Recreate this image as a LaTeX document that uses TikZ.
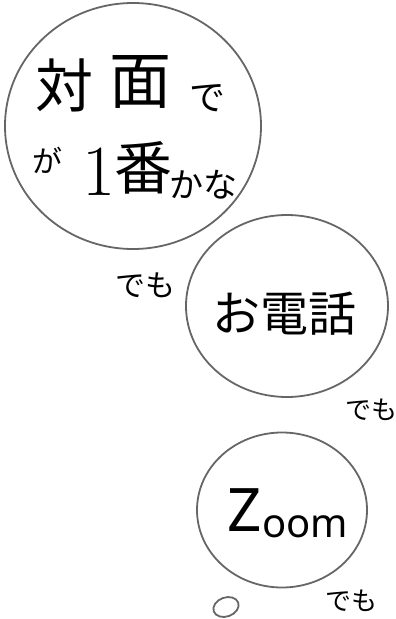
\documentclass[tikz,border=0pt]{standalone}
\usepackage{fontspec}
\newfontfamily\jp{Noto Sans CJK JP}
\newfontfamily\lat{Noto Sans}
\newcommand\fsz[1]{\fontsize{#1}{#1}\selectfont}
\usetikzlibrary{shapes.geometric}

\begin{document}
\begin{tikzpicture}[x = 1pt, y = -1pt, bubble/.style = {ellipse, draw = black!60, line width = 1.8pt, inner sep = 0}, word/.style = {inner sep = 0}]

	\useasboundingbox (0, 0) rectangle (396, 619);

	\node [bubble, minimum width = 256pt, minimum height = 246pt] (face) at (133, 126) {};
	\node [bubble, minimum width = 202pt, minimum height = 182pt] (phone) at (287, 306) {};
	\node [bubble, minimum width = 170pt, minimum height = 155pt] (zoom) at (282, 510) {};
	\node [bubble, minimum width = 26pt, minimum height = 19pt, rotate = 20] (dot) at (226, 607) {};

	\node [word, font = {\jp\fsz{58}}] (tai) at (64, 85) {対};
	\node [word, font = {\jp\fsz{62}}] (men) at (140, 82) {面};
	\node [word, font = {\jp\fsz{36}}] (de) at (207, 98) {で};
	\node [word, font = {\jp\fsz{30}}] (ga) at (47, 160) {が};
	\node [word, font = {\rmfamily\fsz{72}}] (one) at (99, 172) {1};
	\node [word, font = {\jp\fsz{58}}] (ban) at (143, 168) {番};
	\node [word, font = {\jp\fsz{34}}] (kana) at (203, 185) {かな};

	\node [word, font = {\jp\fsz{30}}] (demoA) at (145, 285) {でも};
	\node [word, font = {\jp\fsz{48}}] (denwa) at (284, 314) {お電話};
	\node [word, font = {\jp\fsz{26}}] (demoB) at (371, 410) {でも};
	\node [word, font = {\lat\fsz{60}}] (zoomZ) at (245, 510) {Z};
	\node [word, font = {\lat\fsz{40}}] (zoomO) at (305, 527) {oom};
	\node [word, font = {\jp\fsz{26}}] (demoC) at (351, 601) {でも};

\end{tikzpicture}
\end{document}
